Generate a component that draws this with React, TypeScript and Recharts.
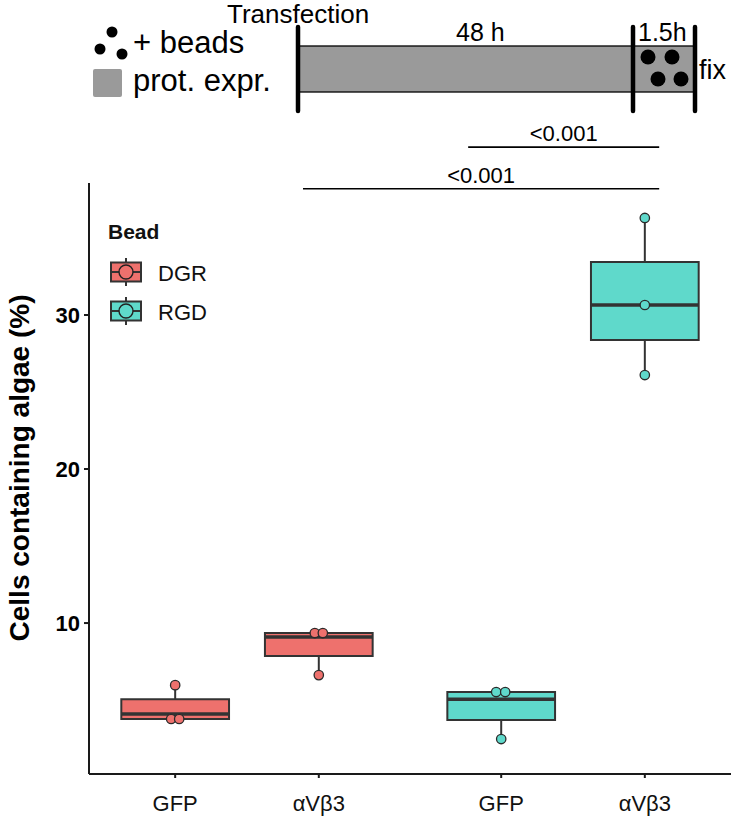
import {
  ComposedChart,
  Legend,
  ReferenceArea,
  ReferenceLine,
  Scatter,
  XAxis,
  YAxis,
} from 'recharts';

// categories on the x axis (ggplot-style dodged slots)
const targets = ['GFP', 'αVβ3', 'GFP', 'αVβ3'];
const groupBead = ['DGR', 'DGR', 'RGD', 'RGD'];
const slots = [1, 2, 3.27, 4.27];

// box statistics (% cells containing algae)
const whiskerLow = [3.77, 6.62, 2.47, 26.1];
const lowerQuartile = [3.77, 7.86, 3.7, 28.38];
const medians = [4.09, 9.09, 5.06, 30.65];
const upperQuartile = [5.06, 9.35, 5.52, 33.44];
const whiskerHigh = [5.97, 9.35, 5.52, 36.3];

// replicate points per group, with the small horizontal jitter seen in the figure
const pointValues = [
  [5.97, 3.77, 3.77],
  [9.35, 9.35, 6.62],
  [5.52, 5.52, 2.47],
  [36.3, 30.65, 26.1],
];
const pointJitter = [
  [0, -0.028, 0.028],
  [-0.028, 0.028, 0],
  [-0.035, 0.028, 0],
  [0, 0, 0],
];

const beadNames = ['DGR', 'RGD'];
const beadColors = ['#EE716D', '#5FD9CB'];

// significance brackets
const sigLabels = ['<0.001', '<0.001'];
const sigFrom = [3.04, 1.89];
const sigTo = [4.37, 4.37];
const sigHeight = [40.9, 38.2];

const yTicks = [10, 20, 30];
const yTitle = 'Cells containing algae (%)';

const FONT = '"Liberation Sans", Arial, Helvetica, sans-serif';
const INK = '#333333';
const HALF = 0.375;

const colorOf = (bead: string) => beadColors[beadNames.indexOf(bead)];

const pointsFor = (bead: string) =>
  pointValues.flatMap((vals, g) =>
    groupBead[g] === bead
      ? vals.map((y, k) => ({ x: slots[g] + pointJitter[g][k], y }))
      : [],
  );

function PointShape(props: any) {
  const { cx, cy, fill } = props;
  return <circle cx={cx} cy={cy} r={4.7} fill={fill} stroke="#2a2a2a" strokeWidth={1.3} />;
}

function BeadLegend() {
  return (
    <svg width={150} height={115} style={{ fontFamily: FONT }}>
      <text x={8} y={24} fontSize={21} fontWeight="bold" fill="#111">
        Bead
      </text>
      {beadNames.map((name, i) => {
        const cy = 57 + i * 39;
        return (
          <g key={name}>
            <line x1={26} x2={26} y1={cy - 14} y2={cy + 14} stroke={INK} strokeWidth={2} />
            <rect x={11} y={cy - 9.5} width={30} height={19} fill={beadColors[i]} stroke={INK} strokeWidth={2} />
            <line x1={11} x2={41} y1={cy} y2={cy} stroke={INK} strokeWidth={2} />
            <circle cx={26} cy={cy} r={7} fill={beadColors[i]} stroke="#222" strokeWidth={1.4} />
            <text x={58} y={cy + 9} fontSize={22} fill="#111">
              {name}
            </text>
          </g>
        );
      })}
    </svg>
  );
}

function Timeline() {
  const dots = [
    [112, 32],
    [100, 49],
    [122, 54],
  ];
  const beads = [
    [648, 57],
    [672, 57],
    [658, 79],
    [681, 79],
  ];
  return (
    <svg
      width={733}
      height={120}
      style={{ position: 'absolute', left: 0, top: 0, fontFamily: FONT, pointerEvents: 'none' }}
    >
      <text x={227} y={23} fontSize={26} fill="#000">
        Transfection
      </text>
      {dots.map(([x, y]) => (
        <circle key={`${x}`} cx={x} cy={y} r={5.5} fill="#000" />
      ))}
      <text x={133} y={53} fontSize={31} fill="#000">
        + beads
      </text>
      <rect x={93} y={69} width={29} height={28} rx={2} fill="#9a9a9a" />
      <text x={133} y={91} fontSize={31} fill="#000">
        prot. expr.
      </text>
      <rect x={298} y={46} width={397} height={46} fill="#9a9a9a" stroke="#000" strokeWidth={1.3} />
      {beads.map(([x, y]) => (
        <circle key={`${x}-${y}`} cx={x} cy={y} r={7.5} fill="#000" />
      ))}
      {[298, 633, 695].map((x) => (
        <line key={x} x1={x} x2={x} y1={27} y2={111} stroke="#000" strokeWidth={4.5} strokeLinecap="round" />
      ))}
      <text x={456} y={41} fontSize={25} fill="#000">
        48 h
      </text>
      <text x={638} y={41} fontSize={25} fill="#000">
        1.5h
      </text>
      <text x={699} y={79} fontSize={27} fill="#000">
        fix
      </text>
    </svg>
  );
}

export default function App() {
  return (
    <div style={{ position: 'absolute', left: 0, top: 0, width: 733, height: 821, background: '#fff' }}>
      <ComposedChart
        width={733}
        height={821}
        margin={{ top: 183, right: 2, bottom: 7, left: 0 }}
        style={{ fontFamily: FONT }}
      >
        <XAxis
          type="number"
          dataKey="x"
          domain={[0.4, 4.87]}
          ticks={slots}
          interval={0}
          allowDataOverflow
          tickFormatter={(v: number) => targets[slots.indexOf(v)] ?? ''}
          height={40}
          tickSize={4}
          tickMargin={17}
          stroke="#1a1a1a"
          strokeWidth={2}
          tick={{ fill: '#111', fontSize: 22, fontFamily: FONT }}
        />
        <YAxis
          type="number"
          dataKey="y"
          domain={[0.2, 38.57]}
          ticks={yTicks}
          interval={0}
          allowDataOverflow
          width={89}
          tickSize={5}
          tickMargin={4}
          stroke="#1a1a1a"
          strokeWidth={2}
          tick={{ fill: '#000', fontSize: 22, fontWeight: 'bold', fontFamily: FONT }}
          label={{
            content: () => (
              <text
                x={19}
                y={468}
                transform="rotate(-90, 19, 468)"
                textAnchor="middle"
                dominantBaseline="central"
                fontSize={28}
                fontWeight="bold"
                fill="#000"
                fontFamily={FONT}
              >
                {yTitle}
              </text>
            ),
          }}
        />

        {slots.map((s, g) => (
          <ReferenceLine
            key={`wl-${g}`}
            segment={[
              { x: s, y: whiskerLow[g] },
              { x: s, y: lowerQuartile[g] },
            ]}
            stroke={INK}
            strokeWidth={2}
          />
        ))}
        {slots.map((s, g) => (
          <ReferenceLine
            key={`wh-${g}`}
            segment={[
              { x: s, y: upperQuartile[g] },
              { x: s, y: whiskerHigh[g] },
            ]}
            stroke={INK}
            strokeWidth={2}
          />
        ))}
        {slots.map((s, g) => (
          <ReferenceArea
            key={`box-${g}`}
            x1={s - HALF}
            x2={s + HALF}
            y1={lowerQuartile[g]}
            y2={upperQuartile[g]}
            fill={colorOf(groupBead[g])}
            fillOpacity={1}
            stroke={INK}
            strokeWidth={2}
          />
        ))}
        {slots.map((s, g) => (
          <ReferenceLine
            key={`med-${g}`}
            segment={[
              { x: s - HALF, y: medians[g] },
              { x: s + HALF, y: medians[g] },
            ]}
            stroke={INK}
            strokeWidth={3.5}
          />
        ))}

        {sigLabels.map((lab, i) => (
          <ReferenceLine
            key={`sig-${i}`}
            ifOverflow="visible"
            segment={[
              { x: sigFrom[i], y: sigHeight[i] },
              { x: sigTo[i], y: sigHeight[i] },
            ]}
            stroke="#000"
            strokeWidth={1.6}
            label={{ value: lab, position: 'top', offset: 6, fill: '#000', fontSize: 22, fontFamily: FONT }}
          />
        ))}

        {beadNames.map((bead) => (
          <Scatter
            key={bead}
            name={bead}
            data={pointsFor(bead)}
            dataKey="y"
            fill={colorOf(bead)}
            shape={PointShape}
            isAnimationActive={false}
          />
        ))}

        <Legend
          layout="horizontal"
          align="center"
          verticalAlign="middle"
          wrapperStyle={{ left: 100, top: 215, width: 150 }}
          content={() => <BeadLegend />}
        />
      </ComposedChart>
      <Timeline />
    </div>
  );
}
